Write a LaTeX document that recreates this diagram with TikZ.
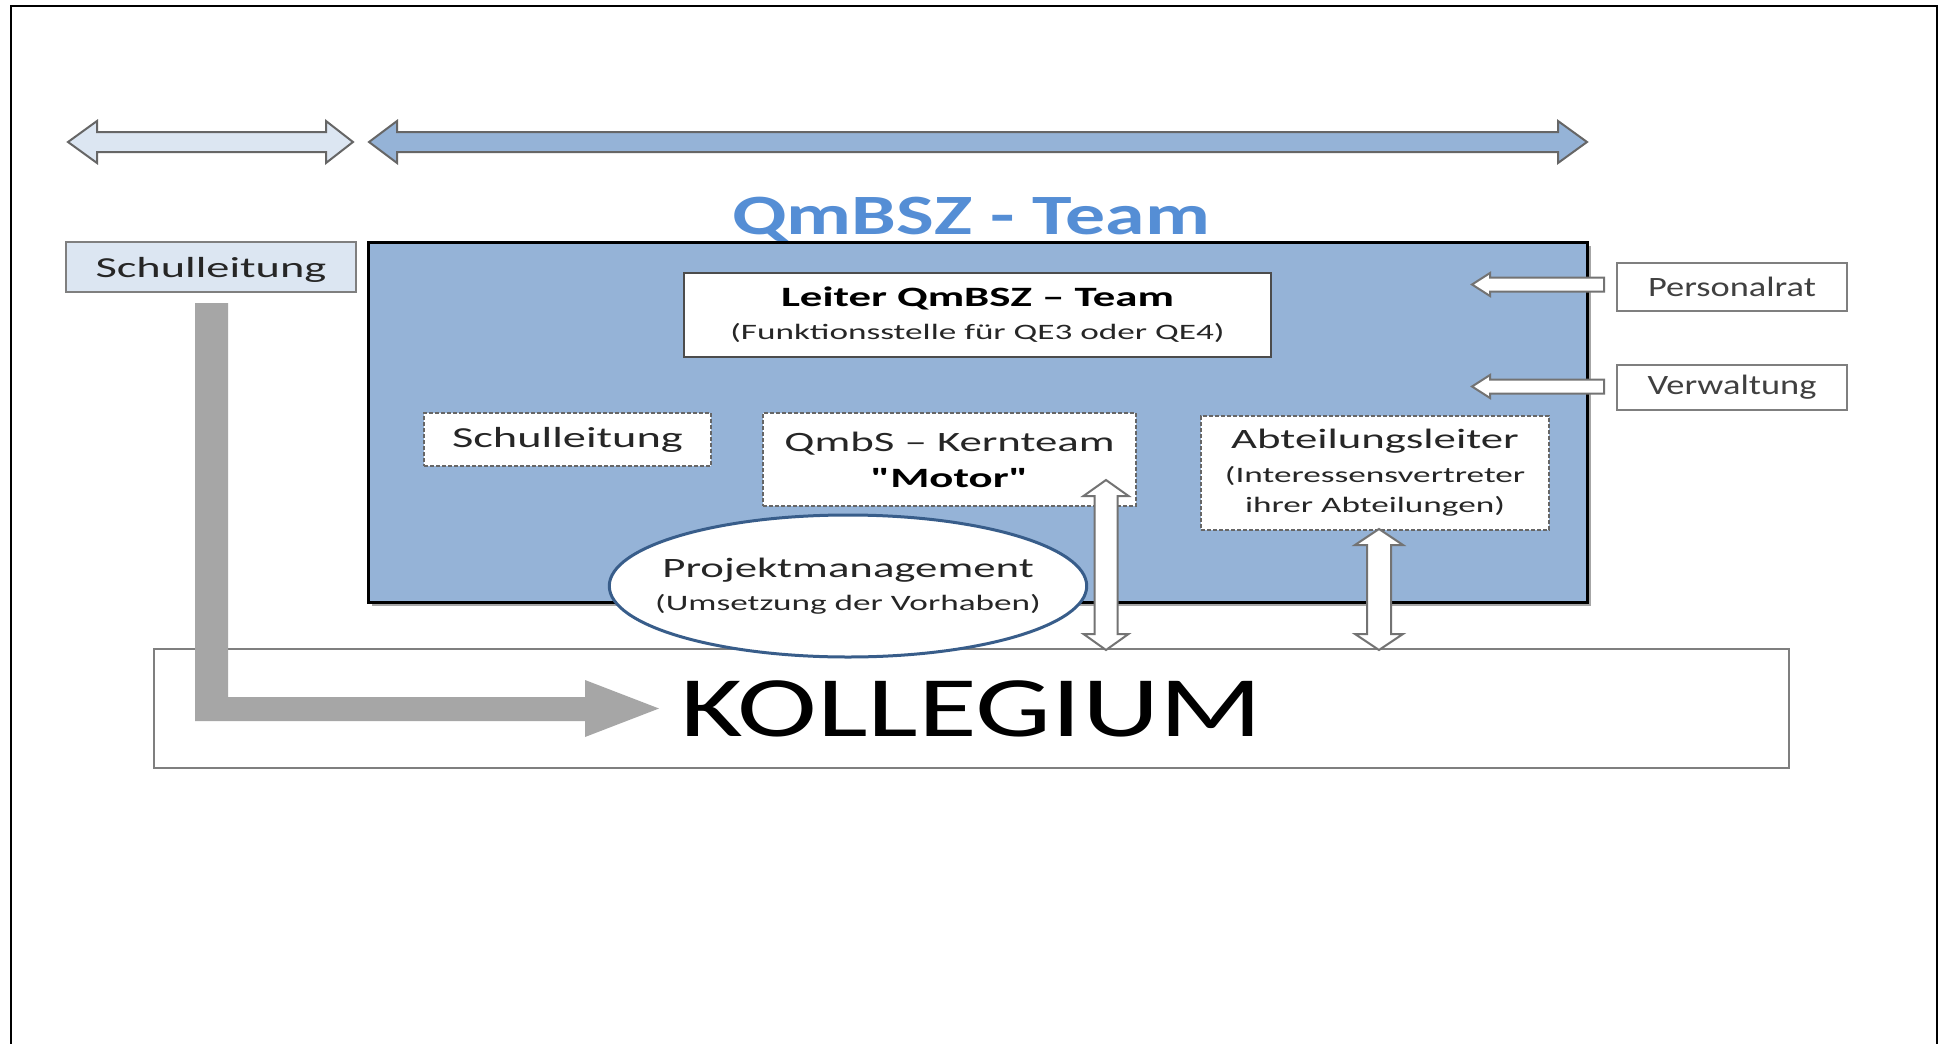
\documentclass[tikz,border=0pt]{standalone}
\usepackage{fontspec}
\setmainfont{Carlito}
\newfontfamily\fA{Carlito}[FakeStretch=1.6]
\newfontfamily\fB{Carlito}[FakeStretch=1.4]
\newfontfamily\fC{Carlito}[FakeStretch=1.3]
\usetikzlibrary{shapes.geometric}
\definecolor{teamblue}{RGB}{149,179,215}
\definecolor{lightblue}{RGB}{220,230,242}
\definecolor{titleblue}{RGB}{85,142,213}
\definecolor{ellblue}{RGB}{56,93,138}
\definecolor{framegray}{RGB}{127,127,127}
\definecolor{arrgray}{RGB}{166,166,166}
\definecolor{txt}{RGB}{38,38,38}
\definecolor{txtgray}{RGB}{64,64,64}
\begin{document}
\begin{tikzpicture}[x=1pt,y=-1pt,
  solidbox/.style={draw=framegray, line width=2.5pt, fill=white, inner sep=0pt, text=txt, align=center},
  dashbox/.style={draw=black!60, line width=2pt, dash pattern=on 4pt off 2pt, fill=white, inner sep=0pt, text=txt, align=center},
  hollow/.style={draw=black!55, line width=2pt, fill=white, line join=miter},
  blockarrow/.style={draw=black!60, line width=2pt, line join=miter},
]
\useasboundingbox (0,0) rectangle (1944,1044);
\fill[white] (0,0) rectangle (1944,1044);
% outer frame
\draw[line width=2.5pt] (11,1050) -- (11,6) -- (1937,6) -- (1937,1050);

% top double arrows
\draw[blockarrow, fill=lightblue] (68,142) -- (97,121) -- (97,132) -- (326,132) -- (326,121) -- (353,142) -- (326,163) -- (326,152) -- (97,152) -- (97,163) -- cycle;
\draw[blockarrow, fill=teamblue] (369,142) -- (397,121) -- (397,132) -- (1558,132) -- (1558,121) -- (1587,142) -- (1558,163) -- (1558,152) -- (397,152) -- (397,163) -- cycle;

% title
\node[font=\fB\bfseries\fontsize{57}{60}\selectfont, text=titleblue, anchor=base] (title) at (971,234) {QmBSZ - Team};

% team rectangle
\fill[black!35] (372,246) rectangle (1591,606);
\node[draw=black, line width=3pt, fill=teamblue, minimum width=1219, minimum height=360, inner sep=0pt] (team) at (977.5,422) {};

% Kollegium
\node[solidbox, minimum width=1635, minimum height=119, font=\fB\fontsize{86}{90}\selectfont, text=black] (koll) at (971.5,708.5) {KOLLEGIUM};

% left Schulleitung
\node[solidbox, fill=lightblue, minimum width=290, minimum height=50, text depth=0pt, font=\fA\fontsize{29}{34}\selectfont] (sl1) at (211,267) {Schulleitung};

% gray L arrow
\fill[arrgray] (195,303) -- (228,303) -- (228,697) -- (585,697) -- (585,680) -- (659,708.5) -- (585,737) -- (585,721) -- (195,721) -- cycle;

% inner boxes
\node[draw=black!70, line width=2pt, fill=white, inner sep=0pt, align=center, minimum width=587, minimum height=84, font=\fA\fontsize{28}{33}\selectfont] (leiter) at (977.5,315) {{\bfseries Leiter QmBSZ – Team}\\{\color{txt}\fontsize{22}{33}\selectfont (Funktionsstelle für QE3 oder QE4)}};
\node[dashbox, minimum width=287, minimum height=53, font=\fA\fontsize{29}{34}\selectfont] (sl2) at (567.5,439.5) {Schulleitung};
\node[dashbox, minimum width=373, minimum height=93, font=\fA\fontsize{28}{36}\selectfont] (qmbs) at (949.5,459.5) {QmbS – Kernteam\\{\bfseries\color{black}"Motor"}};
\node[dashbox, minimum width=348, minimum height=114, font=\fA\fontsize{28}{30}\selectfont] (abt) at (1375,473) {Abteilungsleiter\\[4pt]{\fontsize{22}{30}\selectfont (Interessensvertreter}\\{\fontsize{22}{30}\selectfont ihrer Abteilungen)}};

% ellipse
\node[ellipse, draw=ellblue, line width=3pt, fill=white, inner xsep=-24pt, inner ysep=0pt, minimum width=474, minimum height=142, align=center, text=txt, font=\fA\fontsize{28}{33}\selectfont] (proj) at (848,586) {Projektmanagement\\{\fontsize{22}{33}\selectfont (Umsetzung der Vorhaben)}};

% vertical double arrows
\draw[hollow] (1106,480) -- (1128.5,496) -- (1117.5,496) -- (1117.5,634) -- (1128.5,634) -- (1106,650) -- (1083.5,634) -- (1094.5,634) -- (1094.5,496) -- (1083.5,496) -- cycle;
\draw[hollow] (1379,529) -- (1403,545) -- (1391,545) -- (1391,634) -- (1403,634) -- (1379,650) -- (1355,634) -- (1367,634) -- (1367,545) -- (1355,545) -- cycle;

% right boxes
\node[solidbox, minimum width=230, minimum height=48, text=txtgray, font=\fC\fontsize{28}{34}\selectfont] (pers) at (1732,287) {Personalrat};
\node[solidbox, minimum width=230, minimum height=45, text=txtgray, font=\fC\fontsize{28}{34}\selectfont] (verw) at (1732,387.5) {Verwaltung};

% small arrows into team
\draw[hollow] (1472,284.5) -- (1490,273) -- (1490,277.5) -- (1604,277.5) -- (1604,291.5) -- (1490,291.5) -- (1490,296) -- cycle;
\draw[hollow] (1472,386.5) -- (1490,375) -- (1490,379.5) -- (1604,379.5) -- (1604,393.5) -- (1490,393.5) -- (1490,398) -- cycle;
\end{tikzpicture}
\end{document}
